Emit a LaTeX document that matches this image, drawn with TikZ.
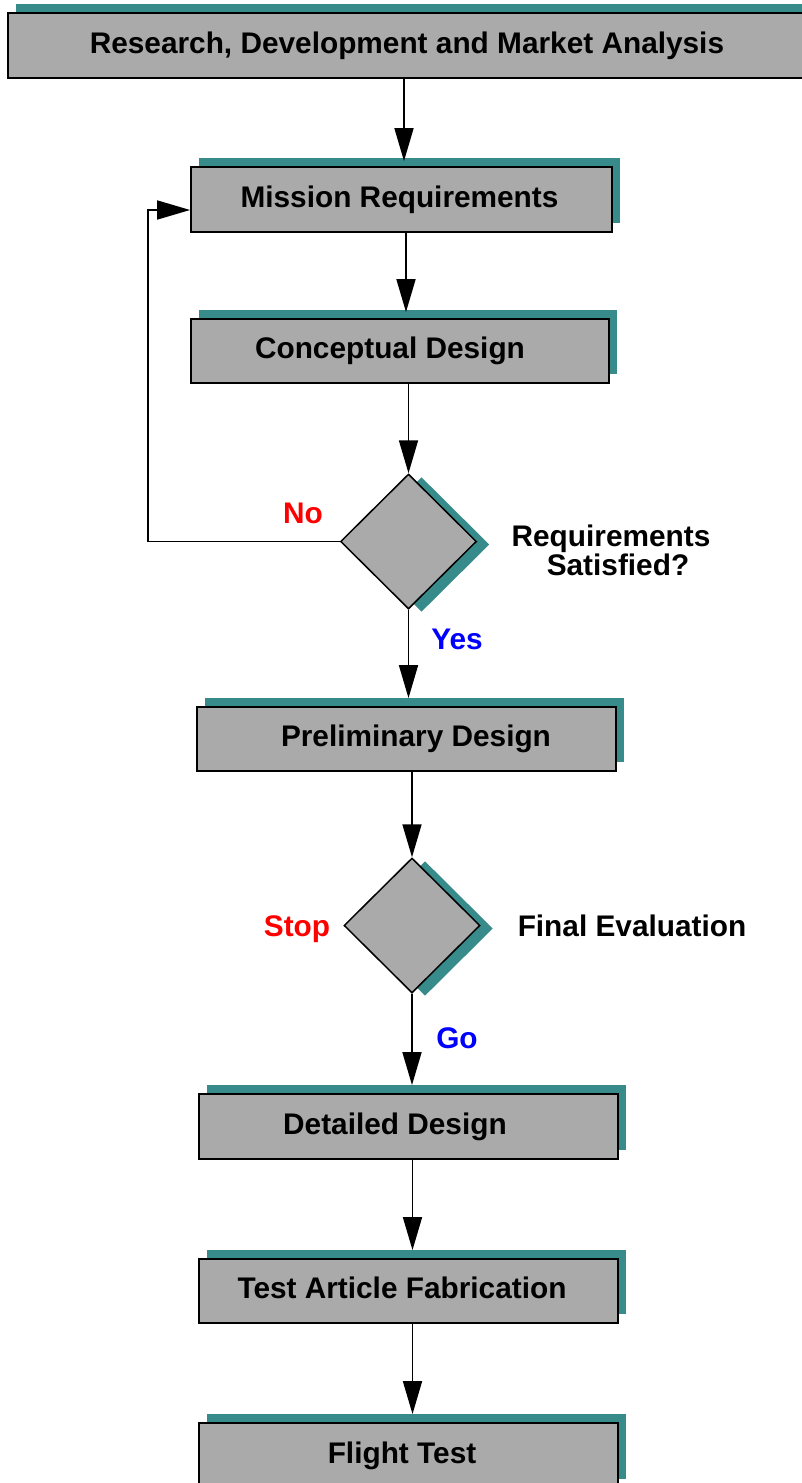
\documentclass[tikz,border=0pt]{standalone}
\usepackage{fontspec}
\setmainfont{Liberation Sans}
\usetikzlibrary{shapes.geometric,shadows,arrows.meta}
\definecolor{boxgray}{RGB}{170,170,170}
\definecolor{shteal}{RGB}{56,139,139}
\definecolor{nored}{RGB}{255,0,0}
\definecolor{yesblue}{RGB}{0,0,255}
\tikzset{
  stagebox/.style={rectangle, draw=black, line width=1.8pt, fill=boxgray,
    inner sep=0pt, minimum height=65pt,
    copy shadow={shadow xshift=7.5pt, shadow yshift=9pt, fill=shteal, draw=none}},
  decision/.style={diamond, draw=black, line width=1.5pt, fill=boxgray,
    inner sep=0pt, minimum width=136pt, minimum height=135pt,
    copy shadow={shadow xshift=13pt, shadow yshift=-3pt, fill=shteal, draw=none}},
  txt/.style={font=\fontsize{29.8}{33}\selectfont\bfseries, inner sep=0pt,
    text height=21pt, text depth=6pt},
  lbl/.style={font=\fontsize{29.8}{29}\selectfont\bfseries, inner sep=0pt, anchor=base},
  flow/.style={line width=1.7pt, -{Triangle[length=33pt,width=19pt]}},
}
\begin{document}
\begin{tikzpicture}[x=1pt, y=-1pt]
\useasboundingbox (0,0) rectangle (802,1483);
\clip (0,0) rectangle (802,1483);

% process boxes
\node[stagebox, minimum width=804pt] (b1) at (410,45.5) {};
\node[stagebox, minimum width=421pt] (b2) at (401.5,199.5) {};
\node[stagebox, minimum width=418pt, minimum height=64pt] (b3) at (400,351) {};
\node[stagebox, minimum width=419pt, minimum height=64pt] (b4) at (406.5,739) {};
\node[stagebox, minimum width=419pt] (b5) at (408.5,1126.5) {};
\node[stagebox, minimum width=419pt, minimum height=64pt] (b6) at (408.5,1291) {};
\node[stagebox, minimum width=419pt] (b7) at (408.5,1455.5) {};

% decision diamonds
\node[decision] (d1) at (408.5,541.5) {};
\node[decision] (d2) at (412,925.5) {};

% box captions
\node[txt, xshift=-3pt] (t1) at (b1) {Research, Development and Market Analysis};
\node[txt, xshift=-2pt] (t2) at (b2) {Mission Requirements};
\node[txt, xshift=-10pt] (t3) at (b3) {Conceptual Design};
\node[txt, xshift=9.5pt] (t4) at (b4) {Preliminary Design};
\node[txt, xshift=-13.5pt] (t5) at (b5) {Detailed Design};
\node[txt, xshift=-6.5pt] (t6) at (b6) {Test Article Fabrication};
\node[txt, xshift=-6.5pt] (t7) at (b7) {Flight Test};

% decision captions and branch labels
\node[font=\fontsize{29.8}{29}\selectfont\bfseries, inner sep=0pt, align=center]
  (q1) at (611,550) {Requirements\\\hspace*{14pt}Satisfied?};
\node[lbl] (q2) at (632,936) {Final Evaluation};
\node[lbl, text=nored] (no) at (303,523) {No};
\node[lbl, text=yesblue] (yes) at (457,649) {Yes};
\node[lbl, text=nored] (stop) at (297,936) {Stop};
\node[lbl, text=yesblue] (go) at (457,1048) {Go};

% connectors
\draw[flow] ([xshift=-6pt]b1.south) -- ([xshift=2.5pt,yshift=5pt]b2.north);
\draw[flow] ([xshift=4.5pt]b2.south) -- ([xshift=6pt,yshift=6pt]b3.north);
\draw[flow] (b3.south -| d1.north) -- (d1.north);
\draw[flow] (d1.south) -- ([yshift=8pt]b4.north -| d1.south);
\draw[flow] (b4.south -| d2.north) -- (d2.north);
\draw[flow] (d2.south) -- ([yshift=8pt]b5.north -| d2.south);
\draw[flow] ([xshift=4pt]b5.south) -- ([xshift=4pt,yshift=8pt]b6.north);
\draw[flow] ([xshift=4pt]b6.south) -- ([xshift=4pt,yshift=8pt]b7.north);

% feedback loop from the first decision
\coordinate (fb) at (148,541.5);
\draw[flow] (d1.west) -- (fb) |- ([yshift=-10.5pt]b2.west);
\end{tikzpicture}
\end{document}
